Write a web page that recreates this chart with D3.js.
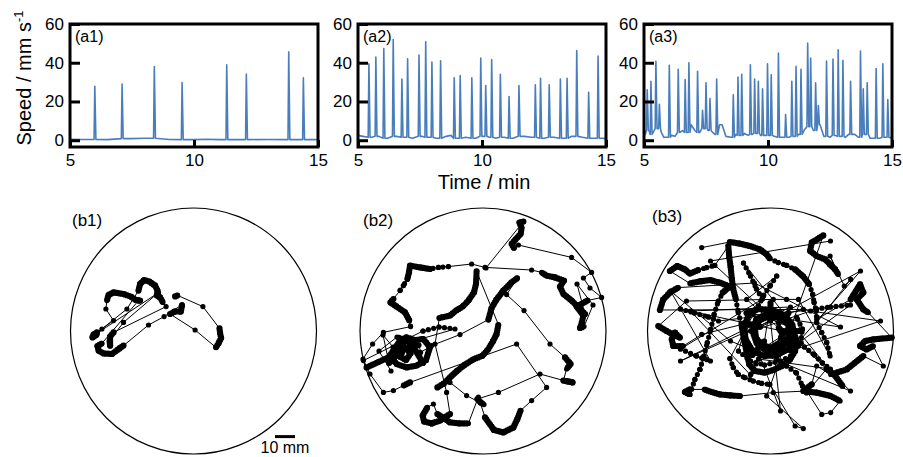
<!DOCTYPE html>
<html>
<head>
<meta charset="utf-8">
<script src="https://d3js.org/d3.v7.min.js"></script>
<style>
  body { margin: 0; background: #fff; }
  text { font-family: "Liberation Sans", Arial, sans-serif; fill: #000; }
</style>
</head>
<body>
<script>
// ---- speed traces (time in min, speed in mm/s) ----
const xTicks = [5, 10, 15];
const yTicks = [0, 20, 40, 60];
const topLabels = ["(a1)", "(a2)", "(a3)"];
const bottomLabels = ["(b1)", "(b2)", "(b3)"];

const peakT1 = [6.0, 7.1, 8.4, 9.52, 11.32, 12.11, 13.82, 14.41];
const peakV1 = [27.8, 29, 38, 29.8, 39, 34.2, 45.6, 32.2];
const baseT1 = [5, 5.5, 6.5, 7.5, 8, 9, 10, 10.5, 11, 12, 13, 14, 15];
const baseV1 = [0.5, 0.4, 0.3, 0.8, 1, 0.4, 0.3, 0.5, 0.3, 0.3, 0.4, 0.3, 0.3];

const peakT2 = [5.44, 5.72, 6.04, 6.42, 6.77, 7.0, 7.46, 7.73, 7.98, 8.33, 8.88, 9.12, 9.59, 9.95,
                10.15, 10.39, 10.74, 11.09, 11.49, 12.15, 12.36, 12.71, 13.16, 13.43, 13.82, 14.3, 14.68];
const peakV2 = [39.5, 43, 47.3, 52, 31.6, 42, 44, 50.8, 40.3, 41, 32.2, 33.4, 32.2, 42.4,
                28.2, 41.7, 34, 22.6, 28.2, 28.6, 32, 28.6, 31.6, 32, 46.3, 24.7, 43.5];
const baseT2 = [5, 5.2, 5.55, 5.85, 6.2, 6.55, 6.88, 7.2, 7.58, 7.85, 8.15, 8.55, 8.75, 9.0, 9.35, 9.75,
                10.05, 10.28, 10.55, 10.9, 11.25, 11.7, 12.0, 12.5, 12.9, 13.3, 13.6, 14.05, 14.5, 14.9, 15];
const baseV2 = [2.5, 2, 1.5, 2, 1, 2, 1.5, 1, 2, 1.5, 1, 2, 2.5, 1, 1.5, 1,
                2, 1.5, 1, 1.5, 1, 2, 1.5, 1, 1.5, 1, 2, 1.5, 1, 1, 0.5];

const peakT3 = [5.13, 5.28, 5.48, 5.62, 6.02, 6.38, 6.66, 6.81, 7.16, 7.36, 7.5, 7.66, 7.93, 8.6, 8.79,
                8.94, 9.29, 9.46, 9.61, 9.78, 9.98, 10.13, 10.42, 10.71, 10.96, 11.13, 11.33, 11.6, 11.72,
                11.92, 12.03, 12.36, 12.62, 12.83, 13.02, 13.33, 13.73, 13.84, 14.0, 14.36, 14.63, 14.83];
const peakV3 = [26, 30.4, 40.7, 18.6, 38.7, 36.6, 31.3, 40, 35.6, 15.5, 29.7, 21.5, 31.6, 23.4, 32.6,
                34, 39, 31.6, 30.4, 26.6, 39.5, 33.8, 45, 13.2, 30.4, 38.1, 36.6, 50.2, 42.4,
                29.7, 17.9, 40.9, 41.9, 46.7, 41.2, 30.4, 46, 26.6, 29.7, 37, 39.5, 21];
const baseT3 = [5.0, 5.05, 5.2, 5.35, 5.55, 5.7, 5.8, 5.95, 6.1, 6.25, 6.45, 6.55, 6.72, 6.9, 7.05, 7.25,
                7.42, 7.58, 7.77, 7.86, 8.05, 8.15, 8.3, 8.5, 8.7, 8.86, 9.05, 9.2, 9.37, 9.53, 9.7, 9.88,
                10.05, 10.25, 10.55, 10.65, 10.85, 11.05, 11.23, 11.45, 11.66, 11.83, 12.1, 12.25, 12.5,
                12.7, 12.92, 13.12, 13.25, 13.5, 13.65, 13.92, 14.12, 14.3, 14.5, 14.75, 15];
const baseV3 = [6, 3, 5, 3, 6, 4, 1.5, 1.5, 2.5, 2, 4, 5, 4, 8, 5, 4,
                6, 5, 4, 3, 8, 8, 2, 1.5, 3, 2.5, 3.5, 2.5, 3, 3.5, 2.5, 2.5,
                2.5, 2, 1.5, 1.5, 1.5, 2, 3, 5, 7, 5, 8, 2, 1.5,
                2.5, 2, 1.5, 3, 3, 1.5, 3, 1, 1, 1, 1.5, 1];

// ---- trajectories: mm from arena centre, y downwards.
// third value = how the fish got there from the previous point: 0 fast jump, 1 slow, 2 medium
const track1 = [[-9.2,-17.3,0],[-8,-17.8,1],[4.7,-12.2,0],[13,-1.3,0],[13.3,1.2,1],[13.8,3.5,1],[12.5,6.2,1],
  [11.2,8.2,1],[0.8,-0.5,0],[-11.7,-8.5,0],[-9.2,-9.8,1],[-6.3,-9.7,1],[-5.8,-12.7,1],[-5.7,-13.2,1],
  [-14.7,-7.2,0],[-22.5,-3,0],[-35,7.3,0],[-37,8.7,1],[-40.8,11.5,1],[-45,11.2,1],[-47.5,9.8,1],[-48,7.5,1],
  [-45.8,6.2,1],[-27.5,-15.2,0],[-26.7,-15.2,1],[-29.2,-15.7,1],[-31.3,-17.2,1],[-35,-18.5,1],[-40,-19.3,1],
  [-42.5,-18,1],[-43.3,-15.2,1],[-43.8,-11,0],[-40,-5.2,0],[-48.3,0.7,0],[-50,1.8,1],[-50.5,3.2,1],
  [-48.3,1.8,1],[-45.8,-1,0],[-33.3,-11,0],[-27.5,-20.2,0],[-26.7,-23.5,1],[-24.7,-25.5,1],[-22,-24.7,1],
  [-19.2,-22.7,1],[-18,-20.2,1],[-18.3,-17.7,1],[-16.7,-16.8,1],[-15.3,-14.3,1],[-13.7,-12.2,0],[-40,0.7,0],
  [-41.7,2.8,1],[-41.7,7.3,1],[-42,4.8,1],[-35,-4.3,0],[-17.5,-19.2,0],[-48.3,1.2,0]];

const track2 = [[1.5,-31.5,0],[20.2,-54.7,0],[18.2,-54.2,1],[19.3,-51.5,1],[18.8,-48.5,1],[16,-45.5,1],[14.3,-43.5,1],
  [15.5,-41.5,1],[17.7,-43,0],[44.3,-36.8,0],[54.3,-29.3,0],[50.2,-26.5,0],[53.5,-21.5,0],[59.3,-16.8,0],
  [52.2,-15.2,0],[46.8,-12.2,1],[50.2,-7.7,1],[49.3,-3.8,1],[48.5,-1.5,1],[50.5,-2.2,1],[55,-13,0],[47,-23.5,0],
  [51,-8.5,0],[44.3,-15.2,1],[40.2,-18.5,1],[38.5,-22.2,1],[40.5,-25.2,1],[36,-26.8,1],[31.8,-27.7,1],
  [29.3,-29.3,1],[24.3,-30.5,0],[1,-31.8,0],[-5.7,-33.5,0],[-17.3,-32.2,0],[-22.3,-31.8,2],[-26.5,-31,2],
  [-31.5,-31.8,1],[-36.5,-32.7,1],[-37,-29.3,1],[-37.8,-26,1],[-39.8,-22.7,2],[-41.5,-20.2,2],[-44.8,-16,0],
  [-46.2,-14.3,1],[-43.2,-12.2,1],[-39,-9.3,1],[-36.8,-5.2,1],[-36.2,-2.2,2],[-49.8,0.7,0],[-55.2,6.5,0],
  [-60,14,0],[-58.2,18.2,0],[-47.3,13.2,1],[-44.8,9.8,1],[-41.5,4.8,1],[-38.2,3.2,1],[-34,4.5,1],[-29.8,4,1],
  [-26.5,8.2,1],[-28.5,14.5,1],[-33.2,17.3,1],[-38.2,18.2,1],[-43.2,16.5,1],[-45.7,13.2,1],[-44,8.5,1],
  [-39.8,7.3,1],[-36.2,11.2,1],[-38.5,14.5,1],[-41.5,12.8,1],[-40.2,10.2,1],[-31.2,10.7,0],[-25.7,7.3,0],
  [-11.5,1.8,0],[2.7,-5.7,0],[4.3,-11.5,1],[6.8,-15.8,1],[10.2,-20.2,1],[14.3,-24.3,1],[17.2,-26.5,1],
  [11.8,-18.2,0],[20.5,-10.2,0],[33.5,6.5,0],[41,13.2,0],[43.8,16.5,1],[41.8,19,1],[40.2,24.8,0],[44.8,25.7,1],
  [40.5,24.8,1],[28.5,21.5,0],[7.7,30.7,0],[-2.8,34,0],[-1.2,35.7,1],[0.5,36.8,1],[-8.2,32.3,0],[-16.5,25.7,0],
  [-22.8,28.2,0],[-19.5,26.2,1],[-16.5,23.2,1],[-12.8,19.8,1],[-9,16.8,1],[-4.5,14,1],[-0.2,12.3,1],[2.7,9,1],
  [5.2,4.8,1],[6.8,1.5,1],[7.7,-3.2,1],[-3.2,-29.8,0],[-3.5,-23.5,1],[-4.5,-19.3,1],[-7.3,-15.2,1],
  [-10.2,-12.2,1],[-13.5,-10.2,1],[-16.5,-7.7,1],[-20.7,-6.8,1],[-21.8,-6.5,1],[-24,6.5,0],[-18.2,30.7,0],
  [-16.5,41.5,0],[-21.5,44.8,1],[-25.7,46.2,1],[-29.5,45.2,1],[-30.2,42.3,1],[-27.8,38.2,1],[-24.8,36.5,0],
  [-22.8,41.5,0],[-16.5,45.7,1],[-11.5,46.2,1],[-7.3,46.2,1],[-2.3,33,0],[1,43.2,0],[5.5,49.5,1],
  [10.2,50.7,1],[15.2,48.2,1],[17.2,44,1],[18.8,39.8,1],[24.3,34.8,0],[31.8,28.2,0],[16.8,6.5,0],
  [-36.5,25.7,0],[-39.8,27.3,1],[-44.8,29.8,0],[-49.8,30.7,0],[-56.5,21.5,0],[-59.8,14.8,0],
  [-30,0,0],[-22,-2,2],[-14,-1,2],[-45,8,0],[-50,2,0],[-47,16,0],[-40,9,1],[-32,7,1],[-30,16,0],[-36,6,1],
  [-43,3,1],[-52,10,0],[-46,20,0]];

const track3 = [[-34.4,-41.7,0],[-20.3,-44.5,0],[-15.3,-43.7,1],[-10.3,-42.5,1],[-5.3,-40.8,1],[-1.9,-38.3,1],
  [-0.3,-36.2,1],[3.9,-34.2,2],[8.1,-32.8,2],[12.3,-30.8,2],[16.4,-27.2,1],[19.4,-23.3,1],[21.1,-18.3,2],
  [21.8,-14.2,2],[22.8,-10,2],[23.1,-5.8,2],[40.1,-15.8,0],[44.8,-23.3,1],[46.4,-19.2,1],[43.1,-15.8,1],
  [46.4,-10.8,1],[48.9,-9.2,1],[60.6,3.3,0],[51.4,4.2,1],[47.3,5,1],[44.8,7.5,1],[48,9.2,1],[51.4,7.5,1],
  [56.4,17.5,0],[46.4,12.5,0],[38.1,19.2,1],[33.1,20.8,1],[30.1,21.7,1],[23.1,17.5,0],[20.6,26.7,0],
  [16.4,30,1],[23.1,30.8,1],[30.1,32.5,1],[34.8,35,1],[30.1,40.8,0],[25.6,41.7,0],[18.1,30,0],[1.4,30.8,0],
  [-15.3,32.5,0],[-20.3,32.2,1],[-25.3,31.7,1],[-29.4,30.5,1],[-33.1,29.2,1],[-40.3,29.2,0],[-42.8,30.5,1],
  [-40.3,31.7,1],[-37.8,24.2,2],[-35.3,19.2,2],[-33.3,12.5,2],[-31.6,5.8,2],[-29.9,-0.8,2],[-28.2,-8.3,2],
  [-26.1,-15,2],[-23.9,-19.2,2],[-20.3,-22.2,1],[-25.3,-24.2,1],[-30.3,-25.5,1],[-35.3,-24.8,1],
  [-40.3,-23.8,1],[-50.3,-30,0],[-46.6,-32.5,1],[-42.8,-30.8,1],[-40.3,-28.7,1],[-36.1,-30.5,1],
  [-31.9,-31.7,2],[-27.8,-32.8,2],[-21.1,-42.5,0],[-20.6,-36.7,1],[-19.9,-31.7,1],[-19.3,-25.8,1],
  [-18.6,-20.8,1],[-17.3,-15.8,1],[-16.1,-9.2,2],[-14.4,-2.5,2],[-13.3,4.2,1],[-11.9,10.8,1],[-10.6,16.7,1],
  [-7.8,20,1],[-2.8,20.8,1],[1.4,19.5,1],[5.6,17.5,1],[9.8,14.2,1],[12.3,10,1],[13.1,5,1],[11.4,0,1],
  [8.1,-4.2,1],[4.2,-6.7,1],[-1.1,-7.2,1],[-5.3,-5.5,1],[-7.8,-1.7,1],[-7.3,3.3,1],[-4.4,7.2,1],[0.6,8.3,1],
  [4.8,5.8,1],[6.1,1.7,1],[3.9,-1.7,1],[-11.9,-15.8,0],
  [3.1,-27.5,0],[-0.3,-22.5,2],[-3.6,-17.5,2],[-6.1,-12.5,2],[-8.6,-8.3,2],[-20.3,13.8,0],[-18.6,18.3,2],
  [-16.1,21.7,2],[-12.8,23.3,2],[-8.6,25,2],[-4.4,26.2,2],[-0.3,26.7,2],[12.3,47.5,0],[16.4,48.8,0],
  [-1.9,32.5,0],[26.4,-47.8,0],[20.6,-44.2,1],[19.8,-40,1],[23.1,-37.5,1],[27.4,-35.8,1],[29.8,-33.3,1],
  [32.3,-30.8,1],[33.9,-28.3,1],[29.8,-37.5,0],[36.9,-22.5,0],[40.1,-25.8,0],[23.1,-4.2,0],[25.6,0.8,2],
  [28.1,5.8,2],[29.8,12.5,2],[14,-15.8,0],[8,-15.8,0],[1.4,-15.8,0],[-42,-15,0],[-56.1,-2.5,0],[-51.9,0,1],
  [-48.9,1.7,1],[-45.3,3.3,1],[-47.8,0.8,1],[-49.4,4.2,1],[-48.6,7.5,1],[-43.6,7.5,1],[-34.4,1.7,0],
  [16.4,-10.8,0],[-55.3,-10.5,0],[-53.6,-15.8,1],[-50.3,-19.2,1],[-46.1,-21.7,1],[-8,-24,0],[35,-2,0],
  [-12,-9,0],[-6,-11,1],[1,-10.5,1],[7,-8,1],[11,-3,1],[12,3,1],[9,9,1],[3,12,1],[-3,12.5,1],[-9,10,1],
  [-12.5,4,1],[-13,-2,1],[-11,-8,1],[-16,10,0],[-10,15,2],[-3,17,2],[5,15,2],[11,12,2],[15,6,2],[16,-1,2],
  [13,-7,2],[17,8,0],[22,12,2],[26,16,2],[30,19,2],[-6,14,0],[-10,22,2],[-40,-10,0],[10,-12,0],[-45,15,0],
  [0,-5,0],[5,40,0],[-10,0,0],[45,-30,0],[10,10,0],[55,-5,0],[20,-10,0],
  [-9,0,0],[-7,-6,1],[-1,-9,1],[5,-8,1],[9,-3,1],[9,4,1],[5,9,1],[-2,10,1],[-7,6,1],[-9,0,1],
  [-13,-4,0],[-5,-2,1],[9,-9,0],[4,-4,1],[11,7,0],[5,3,1],[-9,12,0],[-3,5,1],[0,-14,0],[0,-6,1],[14,0,0],[6,0,1],
  [-45,-11,0],[-38,-9,2],[-31,-7,2],[-26,-5,2],[23,-11,0],[30,-12,2],[40,-13,2],
  [3,14,0],[8,17.5,2],[13,21,2],[16,27.5,2],[18,31,2],[28,19,0],[32,22,1],[36,27.5,1],
  [-13.5,-34,0],[-10,-27.5,2],[-7,-21,2],[-4,-16,2],[-45,9,0],[-37,12.5,2],[-30,15,2],
  [-50,-20,0],[-20,5,0],[40,30,0],[-30,-35,0],[30,-45,0]];

const tracks = [track1, track2, track3];
const speeds = [
  [baseT1, baseV1, peakT1, peakV1],
  [baseT2, baseV2, peakT2, peakV2],
  [baseT3, baseV3, peakT3, peakV3]
];

const w = 903, h = 457;
const svg = d3.select("body").append("svg").attr("width", w).attr("height", h);

// baseline samples plus one narrow spike per peak
function speedPoints(bt, bv, pt, pv) {
  const pts = [];
  bt.forEach((t, i) => {
    if (!pt.some(p => t > p - 0.05 && t < p + 0.07)) pts.push([t, bv[i]]);
  });
  pt.forEach((t, i) => {
    const foot = bv[d3.leastIndex(bt, b => Math.abs(b - t))];
    pts.push([t - 0.03, foot], [t, pv[i]], [t + 0.045, foot]);
  });
  return pts.sort((a, b) => a[0] - b[0]);
}

const frameL = [70, 358, 644];
const frameW = 248;
const frameTop = 24, frameBottom = 147;

speeds.forEach((s, k) => {
  const x = d3.scaleLinear().domain([5, 15]).range([frameL[k], frameL[k] + frameW]);
  const y = d3.scaleLinear().domain([-3.5, 60]).range([frameBottom, frameTop]);
  const g = svg.append("g");

  const line = d3.line().x(d => x(d[0])).y(d => y(d[1]));
  g.append("path")
    .datum(speedPoints(s[0], s[1], s[2], s[3]))
    .attr("d", line)
    .attr("fill", "none")
    .attr("stroke", "#4a7ebb")
    .attr("stroke-width", 1.6)
    .attr("stroke-linejoin", "round");

  const ya = g.append("g")
    .attr("transform", "translate(" + frameL[k] + ",0)")
    .call(d3.axisLeft(y).tickValues(yTicks).tickSize(-10).tickPadding(6));
  const xa = g.append("g")
    .attr("transform", "translate(0," + frameBottom + ")")
    .call(d3.axisBottom(x).tickValues(xTicks).tickSize(-7).tickPadding(7));
  [ya, xa].forEach(a => {
    a.select(".domain").remove();
    a.selectAll(".tick line").attr("stroke", "#000").attr("stroke-width", 3);
    a.selectAll("text").attr("font-size", 17).attr("fill", "#000")
      .style("font-family", "'Liberation Sans', Arial, sans-serif");
  });

  g.append("rect")
    .attr("x", frameL[k]).attr("y", frameTop)
    .attr("width", frameW).attr("height", frameBottom - frameTop)
    .attr("fill", "none").attr("stroke", "#000").attr("stroke-width", 3);

  g.append("text")
    .attr("x", frameL[k] + 5).attr("y", 42)
    .attr("font-size", 16)
    .text(topLabels[k]);
});

// axis titles
const yt = svg.append("text")
  .attr("transform", "translate(31,78) rotate(-90)")
  .attr("text-anchor", "middle")
  .attr("font-size", 20);
yt.append("tspan").text("Speed / mm s");
yt.append("tspan").attr("font-size", 13).attr("dy", -8).text("-1");

svg.append("text")
  .attr("x", 484).attr("y", 189)
  .attr("text-anchor", "middle")
  .attr("font-size", 20)
  .text("Time / min");

// arenas
const centres = [193.5, 483, 770.5];
const cy = 331, R = 123, arenaR = 61.5;
const labelPos = [[72, 226], [363, 226], [652, 222]];

tracks.forEach((tr, k) => {
  const xs = d3.scaleLinear().domain([-arenaR, arenaR]).range([centres[k] - R, centres[k] + R]);
  const ys = d3.scaleLinear().domain([-arenaR, arenaR]).range([cy - R, cy + R]);
  const g = svg.append("g");

  g.append("circle")
    .attr("cx", xs(0)).attr("cy", ys(0)).attr("r", xs(arenaR) - xs(0))
    .attr("fill", "none").attr("stroke", "#000").attr("stroke-width", 1.2);

  g.append("path")
    .datum(tr)
    .attr("d", d3.line().x(d => xs(d[0])).y(d => ys(d[1])))
    .attr("fill", "none").attr("stroke", "#000").attr("stroke-width", 1);

  // slow and medium runs: beads of overlapping or spaced dots
  const runs = tr.map((d, i) => [tr[i - 1], d]).filter(p => p[0] && p[1][2] > 0);
  g.selectAll("line.run")
    .data(runs)
    .enter().append("line")
    .attr("class", "run")
    .attr("x1", d => xs(d[0][0])).attr("y1", d => ys(d[0][1]))
    .attr("x2", d => xs(d[1][0])).attr("y2", d => ys(d[1][1]))
    .attr("stroke", "#000")
    .attr("stroke-width", d => d[1][2] === 1 ? 6.2 : 5.2)
    .attr("stroke-linecap", "round")
    .attr("stroke-dasharray", d => d[1][2] === 1 ? "0 2.2" : "0 5.5");

  g.selectAll("circle.dot")
    .data(tr)
    .enter().append("circle")
    .attr("class", "dot")
    .attr("cx", d => xs(d[0])).attr("cy", d => ys(d[1]))
    .attr("r", 2.6).attr("fill", "#000");

  g.append("text")
    .attr("x", labelPos[k][0]).attr("y", labelPos[k][1])
    .attr("font-size", 17)
    .text(bottomLabels[k]);

  if (k === 0) {
    // 10 mm scale bar
    g.append("line")
      .attr("x1", xs(40.75)).attr("x2", xs(50.75))
      .attr("y1", ys(52.8)).attr("y2", ys(52.8))
      .attr("stroke", "#000").attr("stroke-width", 3);
    g.append("text")
      .attr("x", xs(45.75)).attr("y", 453)
      .attr("text-anchor", "middle")
      .attr("font-size", 16)
      .text("10 mm");
  }
});
</script>
</body>
</html>
